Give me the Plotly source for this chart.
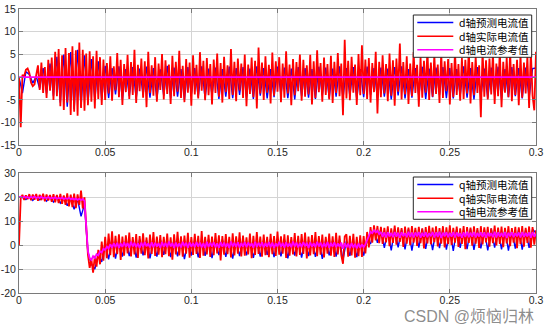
import plotly.graph_objects as go

# ---------------- data ----------------
# sample times (s)
t_fast = [round(i * 0.001, 4) for i in range(301)]
t_slow = [round(j * 0.002, 4) for j in range(151)]
t_ref_d = [0.0, 0.3]

# d-axis actual current (red), one value per millisecond
d_actual = [
    0.0, -11.0, 0.5, 0.2, 1.6, 1.9, 0.9, -1.2, -2.0, -1.6,
    0.5, 2.6, -2.8, 3.2, -3.5, 2.2, -4.6, 3.8, -3.0, 4.3,
    -5.0, 5.6, -4.2, 6.2, -6.4, 4.8, -7.2, 6.4, -5.6, 5.3,
    -8.3, 6.8, -7.6, 5.9, -8.5, 7.6, -6.8, 6.0, -7.4, 5.2,
    -6.2, 5.7, -5.4, 4.6, -6.9, 5.8, -4.8, 4.4, -6.1, 3.9,
    -5.0,
    3.1, -3.6, 4.6, -5.2, 2.4, -2.9, 5.3, -4.4, 3.8, -6.1,
    2.9, -3.3, 4.9, -4.8, 3.3, -3.9, 6.0, -5.7, 2.7, -3.1,
    4.1, -4.5, 3.5, -6.6, 5.6, -3.5, 2.6, -4.1, 4.4, -5.4,
    3.0, -2.8, 5.1, -4.9, 3.7, -3.7, 2.8, -5.9, 4.7, -4.2,
    3.4, -3.2, 5.8, -4.6, 2.5, -5.5, 4.0, -3.4, 3.2, -6.3,
    4.8, -3.8, 2.7, -4.7, 5.5, -3.0, 3.6, -5.1, 4.2, -4.0,
    2.9, -6.0, 3.9, -3.5, 5.2, -4.3, 3.1, -5.6, 4.5, -3.3,
    2.6, -4.8, 6.2, -3.9, 3.4, -5.3, 4.1, -2.9, 3.0, -4.6,
    5.0, -6.4, 2.8, -3.7, 4.3, -4.4, 3.6, -6.9, 6.5, -3.6,
    3.2, -5.0, 4.6, -3.4, 2.7, -5.8, 5.4, -4.1, 3.5, -3.2,
    4.4, -5.5, 3.0, -4.5, 5.7, -3.6, 2.8, -6.2, 4.0, -4.0,
    3.3, -3.1, 5.0, -5.2, 3.8, -4.3, 2.6, -3.8, 4.9, -6.0,
    3.5, -4.6, 5.9, -3.3, 3.1, -5.4, 4.3, -3.9, 2.9, -4.9,
    4.7, -5.7, 3.4, -3.5, 5.3, -4.2, 3.0, -8.4, 8.2, -4.7,
    3.6, -5.1, 4.5, -3.4, 2.8, -6.1, 5.1, -4.0, 7.0, -3.7,
    3.9, -4.8, 4.2, -5.6, 3.1, -3.3, 5.6, -8.0, 3.4, -4.4,
    4.8, -3.6, 2.9, -5.3, 5.2, -4.1, 3.7, -6.3, 4.1, -3.2,
    7.4, -4.9, 3.3, -3.8, 4.6, -5.9, 3.0, -4.2, 5.5, -3.5,
    2.7, -6.5, 4.4, -4.5, 3.6, -3.4, 6.0, -5.0, 3.2, -4.3,
    4.9, -3.7, 2.8, -5.7, 5.3, -4.6, 3.5, -3.1, 4.0, -6.0,
    3.1, -4.4, 5.7, -3.9, 2.9, -5.2, 4.2, -4.8, 3.8, -3.6,
    6.2, -5.8, 3.3, -4.0, 4.5, -3.5, 2.6, -8.8, 5.9, -4.3,
    3.7, -4.9, 4.1, -3.8, 5.4, -5.9, 3.0, -4.2, 6.0, -6.6,
    3.4, -3.4, 4.3, -4.4, 5.6, -5.3, 2.9, -3.9, 3.8, -6.2,
    5.0, -4.5, 3.2, -3.6, 4.6, -6.8, 5.8, -4.1, -7.3, 5.6,
]

# d-axis predicted current (blue), one value per 2 ms
d_pred = [
    0.0, -3.5, 1.2, 0.6, -1.3, 0.2, -2.5, 2.0, -3.6, 3.0,
    -4.2, 4.5, -5.6, 5.0, -6.5, 5.5, -7.0, 6.0, -6.5, 4.8,
    -5.8, 4.0, -5.0, 3.5, -4.8, 2.5,
    -4.6, 2.0, -3.8, 2.4, -4.9, 1.8, -4.2, 2.2, -4.7, 1.9,
    -3.9, 2.3, -4.5, 2.0, -4.8, 1.7, -4.1, 2.5, -4.6, 2.1,
    -4.3, 1.8, -4.9, 2.2, -3.8, 2.0, -4.4, 2.4, -4.7, 1.9,
    -4.0, 2.1, -4.8, 1.8, -4.3, 2.3, -4.6, 2.0, -3.9, 2.2,
    -4.5, 1.9, -4.8, 2.4, -4.1, 2.0, -4.7, 1.8, -4.4, 2.3,
    -3.9, 2.1, -4.6, 1.9, -4.9, 2.2, -4.2, 2.0, -4.5, 1.8,
    -4.8, 2.3, -4.0, 2.1, -4.6, 1.9, -4.3, 2.4, -4.7, 2.0,
    -4.1, 2.2, -4.8, 1.8, -4.4, 2.3, -3.9, 2.0, -4.6, 2.1,
    -4.3, 1.9, -4.9, 2.2, -4.0, 2.4, -4.7, 1.8, -4.5, 2.0,
    -4.2, 2.3, -4.8, 1.9, -4.4, 2.1, -3.9, 2.2, -4.6, 2.0,
    -4.7, 1.8, -4.1, 2.4, -4.5, 2.0, -4.9, 2.2, -4.3, 1.9,
    -4.6, 2.1, -4.0, 2.3, -4.8, 1.8, -4.4, 2.2, -4.2, 2.0,
    -4.7, 2.1, -4.5, 1.9, 2.0,
]

# d-axis reference current (magenta)
d_ref = [0.0, 0.0]

# q-axis actual current (red), one value per millisecond
q_actual = [
    0.0,
    19.6, 21.0, 18.9, 20.8, 19.2, 21.3, 18.7, 21.1, 19.0, 21.4,
    18.5, 21.0, 18.8, 21.5, 18.3, 21.2, 18.6, 20.9, 18.1, 21.3,
    17.9, 21.0, 17.6, 21.4, 17.2, 20.8, 16.8, 21.6, 16.2, 21.1,
    15.9, 21.5, 15.4, 21.2, 16.8, 22.8, 15.3,
    20.0, 5.0, -4.0, -9.5, -6.0, -11.5, -4.5, -9.0, -2.0, -8.0,
    1.5, -6.5, 3.5, -5.5, 4.8, -4.2, 5.8, -5.0, 3.9, -3.8,
    4.5, -6.2, 3.6,
    -4.4, 4.1, -3.5, 5.2, -4.7, 3.4, -3.9, 4.6, -5.3, 3.8,
    -3.6, 4.9, -4.2, 3.2, -5.6, 4.4, -3.7, 5.5, -4.5, 3.6,
    -4.0, 4.2, -5.0, 3.5, -3.8, 4.8, -4.6, 3.3, -6.1, 4.5,
    -3.9, 5.6, -4.3, 3.7, -4.8, 4.0, -3.6, 5.1, -5.2, 3.4,
    -4.1, 4.7, -3.7, 3.9, -5.4, 5.9, -4.4, 3.5, -3.9, 4.3,
    -4.9, 3.6, -4.2, 5.0, -3.5, 4.1, -6.4, 3.8, -4.0, 4.6,
    -3.8, 3.5, -5.1, 4.9, -4.3, 3.7, -3.6, 5.3, -4.7, 4.0,
    -4.4, 3.3, -3.9, 4.8, -5.5, 3.9, -4.1, 5.4, -3.7, 3.6,
    -4.8, 4.4, -4.2, 3.5, -5.0, 4.7, -3.8, 3.8, -4.5, 5.7,
    -4.0, 3.7, -3.6, 4.5, -5.3, 4.1, -4.4, 3.4, -3.9, 5.0,
    -4.7, 3.9, -4.1, 4.6, -3.7, 5.2, -5.6, 3.6, -4.3, 4.2,
    -3.8, 5.5, -4.6, 3.8, -4.0, 4.4, -5.1, 3.5, -3.6, 4.8,
    -4.4, 3.7, -4.9, 5.1, -3.9, 4.0, -4.2, -7.8, 3.6, 4.5,
    -4.8, 3.9, -4.3, 4.7, -5.2, 3.5, -4.6, 4.1, -4.9, 3.8,
    -3.5, 5.5, -1.0, 7.5, 1.0, 8.3, 2.0, 8.0, 0.8, 7.6,
    0.5, 7.2, 1.1, 7.8, -0.4, 7.0, 0.9, 8.2, 0.2, 7.4,
    1.3, 7.1, -0.8, 7.7, 0.6, 7.3, 0.0, 8.0, 1.0, 7.2,
    -0.3, 7.6, 0.8, 7.0, -1.4, 7.5, 0.7, 8.1, 0.3, 7.3,
    1.2, 7.8, -0.5, 7.1, 0.6, 7.9, -1.0, 7.4, 0.4, 8.3,
    0.1, 7.2, 1.0, 7.7, -0.7, 7.0, 0.5, 8.0, -1.7, 7.5,
    0.9, 7.3, -0.2, 7.8, 0.6, 7.1, -1.2, 7.9, 0.3, 7.4,
    1.1, 7.6, -0.6, 7.0, 0.8, 8.2, -0.1, 7.3, 0.5, 7.7,
    -0.9, 7.2, 0.7, 7.9, -0.4, 7.1, 1.0, 7.6, -1.3, 7.4,
    0.4, 8.0, -0.6, 7.2, 0.9, 7.8, -1.1, 7.5, 0.2, 6.2,
]

# q-axis predicted current (blue), one value per 2 ms
q_pred = [
    20.0,
    20.2, 19.0, 20.4, 18.7, 20.3, 18.9, 20.1, 18.4, 20.2, 18.0,
    20.0, 17.5, 19.9, 16.5, 19.6, 15.0, 19.2, 12.0,
    17.0, -3.0, -8.0, -10.0, -4.0, -7.0, 1.0, -6.0, 2.5, -5.6,
    2.0, -4.8,
    2.2, -4.6, 1.8, -5.2, 2.4, -4.3, 2.0, -5.5, 1.7, -4.8,
    2.3, -4.1, 1.9, -5.0, 2.5, -4.7, 2.1, -5.8, 1.8, -4.4,
    2.2, -5.1, 2.0, -4.5, 2.4, -5.4, 1.9, -4.2, 2.3, -4.9,
    1.8, -5.6, 2.1, -4.6, 2.4, -4.3, 2.0, -5.3, 1.7, -4.8,
    2.2, -4.1, 2.5, -5.0, 1.9, -4.7, 2.3, -5.5, 2.0, -4.4,
    1.8, -5.2, 2.4, -4.6, 2.1, -4.9, 1.9, -5.7, 2.2, -4.3,
    2.0, -4.8, 2.3, -6.2, 1.8, -4.5, 2.1, -5.0, 1.5,
    -4.4, 2.0, 0.5, 6.5, 1.0,
    6.8, -1.2, 6.4, -2.2, 6.9, -0.9, 6.5, -1.8, 6.7, -2.3,
    6.3, -1.0, 6.8, -1.6, 6.6, -2.1, 6.4, -1.3, 6.9, -1.9,
    6.5, -2.4, 6.7, -1.1, 6.3, -1.7, 6.8, -2.0, 6.4, -1.4,
    6.6, -2.2, 6.9, -1.0, 6.5, -1.8, 6.7, -2.3, 6.3, -1.5,
    6.8, -1.9, 6.4, -1.2, 6.6, 5.0,
]

# q-axis reference current (magenta), one value per millisecond
q_ref = [
    20.0,
    20.2, 19.8, 20.3, 19.9, 20.1, 19.7, 20.2, 19.8, 20.3, 19.6,
    20.1, 19.7, 20.2, 19.5, 20.0, 19.6, 20.1, 19.4, 19.9, 19.5,
    20.0, 19.3, 19.8, 19.4, 19.9, 19.2, 19.7, 19.3, 19.8, 19.1,
    19.6, 19.0, 19.5, 18.9, 19.4, 18.8, 19.3,
    18.5, 9.0, -2.5, -5.5, -6.2, -4.6, -5.4, -3.8, -4.3, -2.6,
    -3.1, -1.5, -2.0, -0.6, -1.4, 0.4, -1.1, 0.8, -0.9, 1.0,
    -1.2, 0.7, -0.8,
    1.2, -0.7, 0.9, -1.1, 1.4, -0.6, 1.0, -0.9, 0.8, -1.2,
    1.1, -0.8, 1.3, -0.5, 0.7, -1.0, 1.2, -0.9, 1.0, -0.6,
    0.8, -1.1, 1.3, -0.7, 1.0, -0.9, 1.5, -0.6, 0.9, -1.2,
    1.1, -0.8, 0.7, -1.0, 1.4, -0.5, 1.0, -1.1, 1.2, -0.7,
    0.9, -0.9, 1.3, -0.6, 1.1, -1.0, 0.8, -1.2, 1.4, -0.8,
    1.0, -0.6, 1.2, -0.9, 0.7, -1.1, 1.3, -0.7, 1.1, -0.9,
    0.8, -1.2, 1.5, -0.6, 1.0, -0.8, 1.2, -1.0, 0.9, -0.7,
    1.3, -0.9, 1.1, -0.5, 0.8, -1.1, 1.4, -0.8, 1.0, -0.6,
    1.2, -1.0, 0.9, -0.7, 1.3, -0.9, 1.1, -1.2, 0.7, -0.6,
    1.4, -0.8, 1.0, -1.1, 1.2, -0.7, 0.8, -0.9, 1.5, -0.6,
    1.1, -1.0, 0.9, -0.8, 1.3, -0.5, 1.0, -1.2, 1.2, -0.7,
    0.8, -0.9, 1.4, -0.6, 1.1, -1.0, 0.9, -0.8, 1.3, -1.1,
    1.0, -0.7, 1.2, -0.9, 0.7, -0.6, 1.1, -1.5, 0.8, -1.0,
    0.6, -1.3, 0.9, -1.1, 0.5, -1.4, 0.7, -1.2, 0.4, -0.9,
    0.3, 2.5, 3.8, 5.6, 5.0, 6.2, 5.3, 6.0, 4.6, 5.5,
    3.4, 5.3, 3.2, 5.4, 3.6, 5.1, 3.3, 5.5, 3.5, 5.2,
    3.1, 5.4, 3.7, 5.0, 3.3, 5.6, 3.4, 5.2, 3.2, 5.3,
    3.6, 5.5, 3.1, 5.1, 3.5, 5.4, 3.3, 5.0, 3.7, 5.5,
    3.2, 5.3, 3.4, 5.6, 3.0, 5.2, 3.6, 5.4, 3.3, 5.1,
    3.5, 5.5, 3.2, 5.3, 3.6, 5.0, 3.1, 5.4, 3.4, 5.6,
    3.3, 5.2, 3.5, 5.5, 3.2, 5.1, 3.6, 5.3, 3.4, 5.4,
    3.1, 5.2, 3.7, 5.0, 3.3, 5.6, 3.2, 5.3, 3.5, 5.1,
    3.4, 5.5, 3.0, 5.2, 3.6, 5.4, 3.3, 5.0, 3.7, 5.3,
    3.2, 5.5, 3.4, 5.1, 3.6, 5.3, 3.1, 5.4, 3.5, 4.8,
]

legend_d = ["d轴预测电流值", "d轴实际电流值", "d轴电流参考值"]
legend_q = ["q轴预测电流值", "q轴实际电流值", "q轴电流参考值"]
series_colors = ["#0000ff", "#ff0000", "#ff00ff"]

x_ticks = [0, 0.05, 0.1, 0.15, 0.2, 0.25, 0.3]
x_ticktext = ["0", "0.05", "0.1", "0.15", "0.2", "0.25", "0.3"]
d_yticks = [-15, -10, -5, 0, 5, 10, 15]
d_yticktext = ["-15", "-10", "-5", "0", "5", "10", "15"]
q_yticks = [-20, -10, 0, 10, 20, 30]
q_yticktext = ["-20", "-10", "0", "10", "20", "30"]
watermark = "CSDN @烦恼归林"

# ---------------- figure ----------------
W, H = 554, 329
ML, MR, MT, MB = 19, 18, 9, 36
PW, PH = W - ML - MR, H - MT - MB


def px_x(px):
    return (px - ML) / PW


def px_y(py):
    return (H - MB - py) / PH


fig = go.Figure()

widths = [1.4, 1.8, 1.8]
top = [(t_slow, d_pred), (t_fast, d_actual), (t_ref_d, d_ref)]
bot = [(t_slow, q_pred), (t_fast, q_actual), (t_fast, q_ref)]
for k, (tx, vy) in enumerate(top):
    fig.add_trace(go.Scatter(x=tx, y=vy, mode="lines", name=legend_d[k],
                             line=dict(color=series_colors[k], width=widths[k]),
                             xaxis="x", yaxis="y", showlegend=False))
for k, (tx, vy) in enumerate(bot):
    fig.add_trace(go.Scatter(x=tx, y=vy, mode="lines", name=legend_q[k],
                             line=dict(color=series_colors[k], width=widths[k]),
                             xaxis="x2", yaxis="y2", showlegend=False))

tickfont = dict(family="Liberation Sans, Arial, sans-serif", size=10.5, color="#262626")
axcommon = dict(showline=True, linecolor="#7a7a7a", linewidth=1, mirror="ticks",
                ticks="inside", ticklen=4, tickcolor="#7a7a7a",
                showgrid=True, gridcolor="#d4d4d4", gridwidth=1,
                zeroline=False, tickfont=tickfont, automargin=False)

top_dom = [px_y(145.3), px_y(9)]
bot_dom = [max(px_y(293.3), 0), px_y(173.3)]

fig.update_layout(
    width=W, height=H,
    margin=dict(l=ML, r=MR, t=MT, b=MB),
    paper_bgcolor="white", plot_bgcolor="white",
    showlegend=False,
    xaxis=dict(domain=[0, 1], range=[0, 0.3], anchor="y", ticklabelstandoff=-3,
               tickvals=x_ticks, ticktext=x_ticktext, **axcommon),
    yaxis=dict(domain=top_dom, range=[-15, 15], anchor="x",
               tickvals=d_yticks, ticktext=d_yticktext, **axcommon),
    xaxis2=dict(domain=[0, 1], range=[0, 0.3], anchor="y2", ticklabelstandoff=-3,
                tickvals=x_ticks, ticktext=x_ticktext, **axcommon),
    yaxis2=dict(domain=bot_dom, range=[-20, 30], anchor="x2",
                tickvals=q_yticks, ticktext=q_yticktext, **axcommon),
)

# custom legends (compact MATLAB-style boxes)
shapes = []
annots = []
lfont = dict(family="Noto Sans CJK SC, sans-serif", size=10.5, color="#000000")
row_gap = 10.5 * 1.3
for box_top, labels in [(15.0, legend_d), (177.0, legend_q)]:
    box_bot = box_top + 42.3
    mid = (box_top + box_bot) / 2
    shapes.append(dict(type="rect", xref="paper", yref="paper",
                       x0=px_x(413.3), x1=px_x(531.7), y0=px_y(box_bot), y1=px_y(box_top),
                       line=dict(color="#262626", width=1), fillcolor="white", layer="above"))
    for k in range(len(labels)):
        ry = mid + (k - 1) * row_gap
        shapes.append(dict(type="line", xref="paper", yref="paper",
                           x0=px_x(417.3), x1=px_x(453.3), y0=px_y(ry), y1=px_y(ry),
                           line=dict(color=series_colors[k], width=1.5), layer="above"))
    annots.append(dict(text="<br>".join(labels), xref="paper", yref="paper",
                       x=px_x(457.0), y=px_y(mid), xanchor="left", yanchor="middle",
                       align="left", showarrow=False, font=lfont))

annots.append(dict(text=watermark, xref="paper", yref="paper",
                   x=px_x(402), y=px_y(316.5), xanchor="left", yanchor="middle",
                   showarrow=False,
                   font=dict(family="Liberation Sans, Noto Sans CJK SC, sans-serif",
                             size=16, color="rgba(120,120,120,0.85)")))

fig.update_layout(shapes=shapes, annotations=annots)
fig.write_html("out.html")
